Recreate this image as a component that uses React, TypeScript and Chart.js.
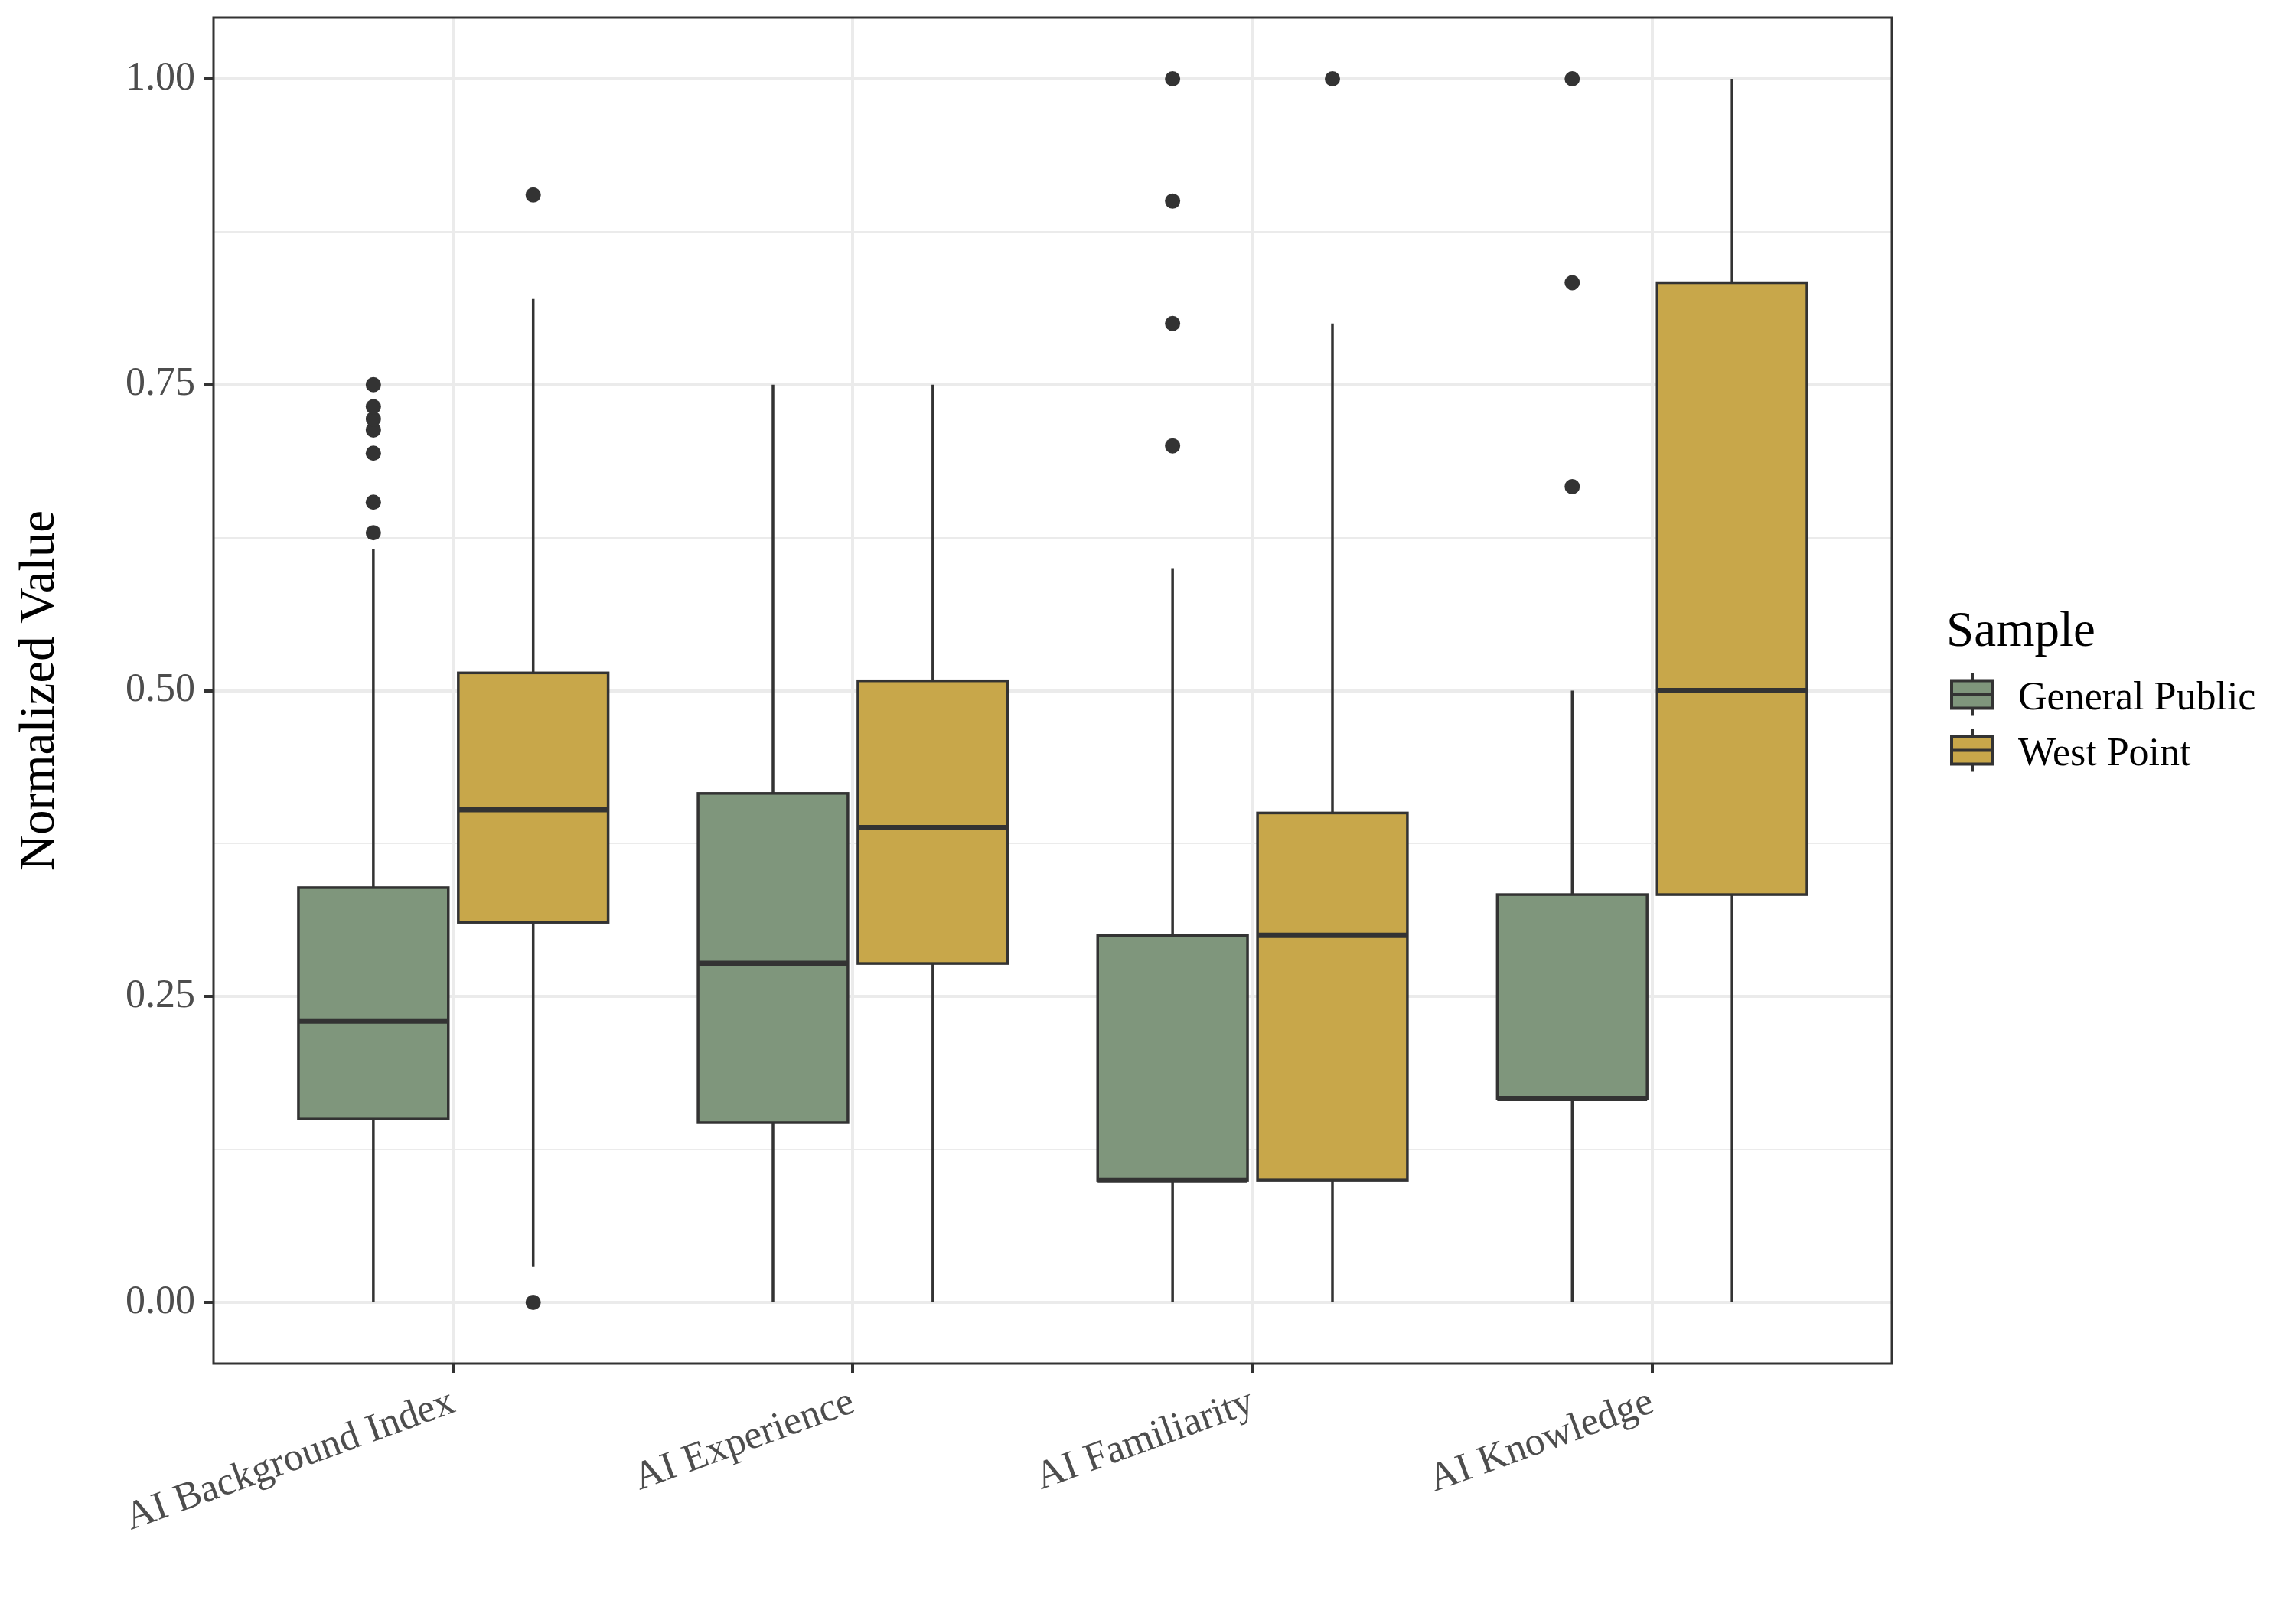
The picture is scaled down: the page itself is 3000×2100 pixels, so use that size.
import React, { useRef, useEffect } from 'react'
import Chart from 'chart.js/auto'

const FONT = '"Liberation Serif", "Times New Roman", serif'

// categories on the x axis
const categories = ['AI Background Index', 'AI Experience', 'AI Familiarity', 'AI Knowledge']

// General Public
const gpLow = [0, 0, 0, 0]
const gpQ1 = [0.15, 0.147, 0.1, 0.1667]
const gpMedian = [0.23, 0.277, 0.1, 0.1667]
const gpQ3 = [0.339, 0.416, 0.3, 0.3333]
const gpHigh = [0.616, 0.75, 0.6, 0.5]
const gpOutliers = [
	[0.629, 0.654, 0.694, 0.713, 0.722, 0.732, 0.75],
	[],
	[0.7, 0.8, 0.9, 1.0],
	[0.6667, 0.8333, 1.0],
]

// West Point
const wpLow = [0.029, 0, 0, 0]
const wpQ1 = [0.3107, 0.277, 0.1, 0.3333]
const wpMedian = [0.4028, 0.388, 0.3, 0.5]
const wpQ3 = [0.5145, 0.508, 0.4, 0.8333]
const wpHigh = [0.82, 0.75, 0.8, 1.0]
const wpOutliers = [[0, 0.905], [], [1.0], []]

// y ticks
const yMajor = [0, 0.25, 0.5, 0.75, 1]
const yMinor = [0.125, 0.375, 0.625, 0.875]

const samples = [
	{ name: 'General Public', color: '#7F967C', offset: -0.2, low: gpLow, q1: gpQ1, med: gpMedian, q3: gpQ3, high: gpHigh, outliers: gpOutliers },
	{ name: 'West Point', color: '#C8A74A', offset: 0.2, low: wpLow, q1: wpQ1, med: wpMedian, q3: wpQ3, high: wpHigh, outliers: wpOutliers },
]

const HALF = 0.1875
const INK = '#333333'

const boxPlugin = {
	id: 'boxes',
	beforeDatasetsDraw(chart: any) {
		const { ctx, scales } = chart
		const x = scales.x
		const y = scales.y
		ctx.save()
		samples.forEach(s => {
			categories.forEach((_, i) => {
				const xc = x.getPixelForValue(i + s.offset)
				const xl = x.getPixelForValue(i + s.offset - HALF)
				const xr = x.getPixelForValue(i + s.offset + HALF)
				const yLow = y.getPixelForValue(s.low[i])
				const yQ1 = y.getPixelForValue(s.q1[i])
				const yMed = y.getPixelForValue(s.med[i])
				const yQ3 = y.getPixelForValue(s.q3[i])
				const yHigh = y.getPixelForValue(s.high[i])
				ctx.strokeStyle = INK
				ctx.lineWidth = 3.5
				ctx.lineCap = 'butt'
				ctx.beginPath()
				ctx.moveTo(xc, yHigh)
				ctx.lineTo(xc, yQ3)
				ctx.moveTo(xc, yQ1)
				ctx.lineTo(xc, yLow)
				ctx.stroke()
				ctx.fillStyle = s.color
				ctx.fillRect(xl, yQ3, xr - xl, yQ1 - yQ3)
				ctx.strokeRect(xl, yQ3, xr - xl, yQ1 - yQ3)
				ctx.lineWidth = 7
				ctx.beginPath()
				ctx.moveTo(xl, yMed)
				ctx.lineTo(xr, yMed)
				ctx.stroke()
			})
		})
		ctx.restore()
	},
	afterDatasetsDraw(chart: any) {
		const { ctx, chartArea } = chart
		ctx.save()
		ctx.strokeStyle = INK
		ctx.lineWidth = 3
		ctx.strokeRect(chartArea.left, chartArea.top, chartArea.right - chartArea.left, chartArea.bottom - chartArea.top)
		ctx.restore()
	},
	afterDraw(chart: any) {
		const { ctx, chartArea } = chart
		const lx = chartArea.right
		const cy = (chartArea.top + chartArea.bottom) / 2
		ctx.save()
		ctx.fillStyle = '#000000'
		ctx.textBaseline = 'alphabetic'
		ctx.textAlign = 'left'
		ctx.font = `65px ${FONT}`
		ctx.fillText('Sample', lx + 71, cy - 59)
		samples.forEach((s, k) => {
			const kx = lx + 105
			const ky = cy + 5 + k * 73
			ctx.strokeStyle = INK
			ctx.lineWidth = 4
			ctx.beginPath()
			ctx.moveTo(kx, ky - 28)
			ctx.lineTo(kx, ky + 28)
			ctx.stroke()
			ctx.fillStyle = s.color
			ctx.fillRect(kx - 27, ky - 18, 54, 36)
			ctx.strokeRect(kx - 27, ky - 18, 54, 36)
			ctx.beginPath()
			ctx.moveTo(kx - 27, ky)
			ctx.lineTo(kx + 27, ky)
			ctx.stroke()
			ctx.fillStyle = '#000000'
			ctx.font = `52px ${FONT}`
			ctx.fillText(s.name, lx + 165, ky + 19)
		})
		ctx.restore()
	},
}

const isMajor = (v: number) => yMajor.some(m => Math.abs(m - v) < 1e-9)

const BoxChart: React.FC = () => {
	const chartRef = useRef<HTMLCanvasElement | null>(null)

	useEffect(() => {
		document.body.style.margin = '0'
		if (!chartRef.current) return
		const ctx = chartRef.current.getContext('2d')
		if (!ctx) return
		const newChart = new Chart(ctx, {
			type: 'scatter',
			data: {
				datasets: samples.map(s => ({
					label: s.name,
					data: s.outliers.flatMap((vals, i) => vals.map(v => ({ x: i + s.offset, y: v }))),
					pointRadius: 10,
					pointBackgroundColor: INK,
					pointBorderWidth: 0,
					pointHoverRadius: 10,
				})),
			},
			options: {
				responsive: false,
				devicePixelRatio: 1,
				animation: false,
				events: [],
				layout: { padding: { left: 0, top: 23, right: 528, bottom: 0 } },
				plugins: {
					legend: { display: false },
					tooltip: { enabled: false },
				},
				scales: {
					x: {
						type: 'linear',
						min: -0.6,
						max: 3.6,
						bounds: 'data',
						afterBuildTicks: (scale: any) => {
							scale.ticks = categories.map((_, i) => ({ value: i }))
						},
						afterFit: (scale: any) => {
							scale.height = 318
							scale.paddingLeft = 0
							scale.paddingRight = 0
						},
						border: { display: false },
						grid: {
							color: '#EBEBEB',
							lineWidth: 4,
							tickColor: INK,
							tickWidth: 4,
							tickLength: 12,
						},
						ticks: {
							autoSkip: false,
							minRotation: 20,
							maxRotation: 20,
							padding: 8,
							color: '#4D4D4D',
							font: { family: FONT, size: 52 },
							callback: (v: any) => categories[Math.round(Number(v))],
						},
					},
					y: {
						type: 'linear',
						min: -0.05,
						max: 1.05,
						bounds: 'data',
						afterBuildTicks: (scale: any) => {
							scale.ticks = [...yMajor, ...yMinor].sort((a, b) => a - b).map(v => ({ value: v }))
						},
						afterFit: (scale: any) => {
							scale.width = 279
							scale.paddingTop = 0
							scale.paddingBottom = 0
						},
						border: { display: false },
						grid: {
							color: '#EBEBEB',
							lineWidth: (c: any) => (isMajor(c.tick.value) ? 4 : 2),
							tickColor: (c: any) => (isMajor(c.tick.value) ? INK : 'rgba(0,0,0,0)'),
							tickWidth: 4,
							tickLength: 12,
						},
						ticks: {
							padding: 12,
							color: '#4D4D4D',
							font: { family: FONT, size: 52 },
							callback: (v: any) => (isMajor(Number(v)) ? Number(v).toFixed(2) : ''),
						},
						title: {
							display: true,
							text: 'Normalized Value',
							color: '#000000',
							font: { family: FONT, size: 65 },
							padding: { top: 14, bottom: 0 },
						},
					},
				},
			},
			plugins: [boxPlugin],
		})

		return () => {
			newChart.destroy()
		}
	}, [])

	return (
		<div style={{ width: 3000, height: 2100, background: '#ffffff' }}>
			<canvas ref={chartRef} width={3000} height={2100} />
		</div>
	)
}

export default function App() {
	return <BoxChart />
}
